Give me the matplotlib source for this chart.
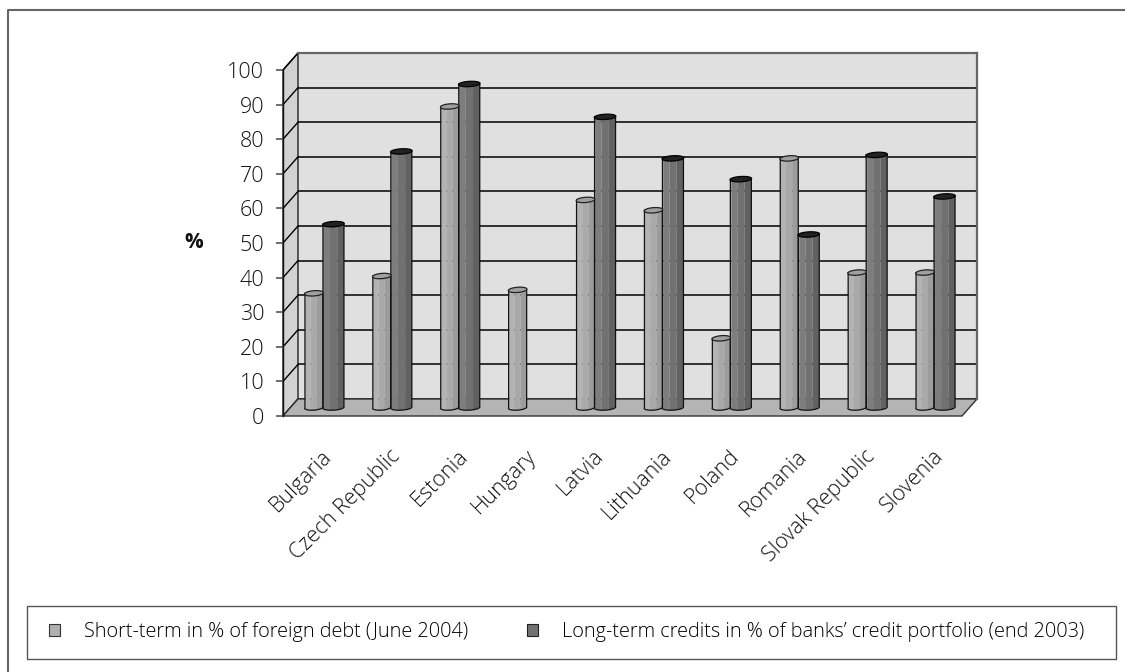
import numpy as np
import matplotlib
matplotlib.use("Agg")
import matplotlib.pyplot as plt
from matplotlib.patches import Polygon, Patch, Rectangle
from matplotlib.lines import Line2D
from matplotlib.transforms import ScaledTranslation

plt.rcParams['font.family'] = ['Open Sans', 'DejaVu Sans']
plt.rcParams['font.weight'] = 'light'

# ---------------- data ----------------
countries = ["Bulgaria", "Czech Republic", "Estonia", "Hungary", "Latvia",
             "Lithuania", "Poland", "Romania", "Slovak Republic", "Slovenia"]
short_term = [33, 38, 87, 34, 60, 57, 20, 72, 39, 39]
long_term = [53, 74, 93.5, np.nan, 84, 72, 66, 50, 73, 61]
series_names = ["Short-term in % of foreign debt (June 2004)",
                "Long-term credits in % of banks\u2019 credit portfolio (end 2003)"]
yticks = list(range(0, 101, 10))

# ---------------- layout ----------------
W, H = 1125, 672
fig = plt.figure(figsize=(W / 100, H / 100), dpi=100)

wall_l, wall_r, wall_t, wall_b = 298, 977, 53, 399   # back wall in px
dpx, dpy = 15, 17                                     # depth offset in px
ncat = len(countries)
px_per_cat = (wall_r - wall_l) / ncat
px_per_val = (wall_b - wall_t) / 100.0
DX = dpx / px_per_cat
DY = dpy / px_per_val

def fpos(l, b, w, h):
    return [l / W, (H - b) / H, w / W, h / H]

ax = fig.add_axes(fpos(wall_l, wall_b, wall_r - wall_l, wall_b - wall_t))
ax.set_xlim(-0.5, ncat - 0.5)
ax.set_ylim(0, 100)
ax.set_facecolor('#e0e0e0')
ax.set_yticks(yticks)
ax.set_xticks([])
ax.tick_params(axis='y', length=0, labelleft=False)
ax.grid(axis='y', color='black', lw=1.1)
ax.set_axisbelow(True)
for s in ['left', 'bottom']:
    ax.spines[s].set_visible(False)
for s in ['top', 'right']:
    ax.spines[s].set_color('#666666')
    ax.spines[s].set_linewidth(1.6)

# side wall
x0 = -0.5
side = Polygon([(x0 - DX, -DY), (x0, 0), (x0, 100), (x0 - DX, 100 - DY)],
               closed=True, facecolor='#d2d2d2', edgecolor='#222222', lw=1.0,
               clip_on=False, zorder=0.5)
ax.add_patch(side)
for v in yticks:
    ax.plot([x0 - DX, x0], [v - DY, v], color='black', lw=1.0, clip_on=False, zorder=0.6)

# floor
x1 = ncat - 0.5
floor = Polygon([(x0 - DX, -DY), (x1 - DX, -DY), (x1, 0), (x0, 0)], closed=True,
                facecolor='#b4b4b4', edgecolor='#333333', lw=1.0, clip_on=False, zorder=1)
ax.add_patch(floor)

# ---------------- cylinders ----------------
rd = 0.16   # depth radius (fraction of full depth)

def front_curve(cx, hw, y0, u):
    s = -np.sqrt(np.clip(1 - u ** 2, 0, 1))
    return cx + hw * u + rd * DX * s, y0 + rd * DY * s

def cylinder(cx, hw, val, strips, top_color, top_edge):
    base = -DY / 2
    top = val - DY / 2
    for (u1, u2, col) in strips:
        uu = np.linspace(u1, u2, 12)
        bx, by = front_curve(cx, hw, base, uu)
        tx, ty = front_curve(cx, hw, top, uu[::-1])
        pts = np.column_stack([np.concatenate([bx, tx]), np.concatenate([by, ty])])
        ax.add_patch(Polygon(pts, closed=True, facecolor=col, edgecolor='none',
                             clip_on=False, zorder=3))
    # outline: left edge, bottom curve, right edge
    uu = np.linspace(-1, 1, 40)
    bx, by = front_curve(cx, hw, base, uu)
    ax.plot(np.concatenate([[cx - hw], bx, [cx + hw]]),
            np.concatenate([[top], by, [top]]), color='#111111', lw=0.9,
            clip_on=False, zorder=3.2)
    # top ellipse
    t = np.linspace(0, 2 * np.pi, 60)
    ex = cx + hw * np.cos(t) + rd * DX * np.sin(t)
    ey = top + rd * DY * np.sin(t)
    ax.add_patch(Polygon(np.column_stack([ex, ey]), closed=True, facecolor=top_color,
                         edgecolor=top_edge, lw=0.9, clip_on=False, zorder=3.3))

light_strips = [(-1, -0.75, '#bdbdbd'), (-0.75, -0.1, '#b3b3b3'),
                (-0.1, 0.55, '#a9a9a9'), (0.55, 1, '#9c9c9c')]
dark_strips = [(-1, -0.75, '#8a8a8a'), (-0.75, -0.1, '#7d7d7d'),
               (-0.1, 0.55, '#717171'), (0.55, 1, '#616161')]

hw_l = 9.0 / px_per_cat
hw_d = 10.5 / px_per_cat
off_l = -10.5 / px_per_cat
off_d = 9.0 / px_per_cat
for i in range(ncat):
    gc = i - DX / 2
    if not np.isnan(short_term[i]):
        cylinder(gc + off_l, hw_l, short_term[i], light_strips, '#a0a0a0', '#222222')
    if not np.isnan(long_term[i]):
        cylinder(gc + off_d, hw_d, long_term[i], dark_strips, '#222222', '#000000')

# ---------------- front axis (ticks) ----------------
axf = fig.add_axes(fpos(wall_l - dpx, wall_b + dpy, wall_r - wall_l, wall_b - wall_t))
axf.set_xlim(-0.5, ncat - 0.5)
axf.set_ylim(0, 100)
axf.patch.set_visible(False)
for s in ['top', 'right', 'bottom']:
    axf.spines[s].set_visible(False)
axf.spines['left'].set_color('#111111')
axf.spines['left'].set_linewidth(1.0)
axf.set_yticks(yticks)
axf.set_yticklabels([str(v) for v in yticks])
axf.set_xticks([])
axf.tick_params(axis='y', direction='out', length=5, width=1.2, color='#555555',
                pad=8.5, labelsize=15.5, labelcolor='#111111')

for i, name in enumerate(countries):
    axf.text(i, 0, name, rotation=45, rotation_mode='anchor', ha='right', va='center',
             fontsize=15.5, color='#111111',
             transform=axf.transData + ScaledTranslation(12 / 100, -37 / 100, fig.dpi_scale_trans))

fig.text(194 / W, 1 - 243 / H, '%', ha='center', va='center', fontsize=15,
         fontweight='bold', color='#111111')

# ---------------- legend ----------------
fig.add_artist(Rectangle((27 / W, 1 - 659 / H), (1116 - 27) / W, (659 - 606) / H,
                         transform=fig.transFigure, facecolor='white',
                         edgecolor='#555555', lw=1.0))
handles = [Patch(facecolor='#b0b0b0', edgecolor='#333333', lw=0.8),
           Patch(facecolor='#727272', edgecolor='#222222', lw=0.8)]
leg = fig.legend(handles, series_names, loc='center left', ncol=2,
                 bbox_to_anchor=(49 / W, 1 - 632.5 / H),
                 fontsize=14.3, handlelength=0.55, handleheight=0.55, handletextpad=1.2,
                 columnspacing=3.0, borderpad=0.0, borderaxespad=0.0, frameon=False)

# outer border (left and top visible)
fig.add_artist(Line2D([8 / W, 8 / W, 1.0], [0, 1 - 10 / H, 1 - 10 / H],
                      transform=fig.transFigure, color='#666666', lw=1.5))

fig.savefig('out.png', dpi=100)
